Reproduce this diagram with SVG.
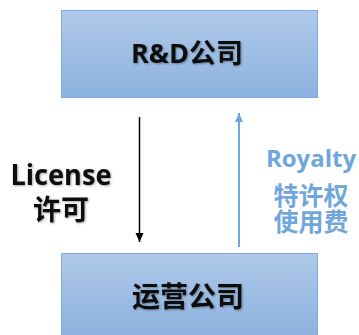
<svg xmlns="http://www.w3.org/2000/svg" width="359" height="335" viewBox="0 0 359 335">
<defs>
<linearGradient id="g" x1="0" y1="0" x2="0" y2="1">
<stop offset="0" stop-color="#afc9e9"/>
<stop offset="1" stop-color="#8db2df"/>
</linearGradient>
<filter id="sh" x="-10%" y="-10%" width="130%" height="130%">
<feDropShadow dx="1" dy="1" stdDeviation="0.8" flood-color="#000" flood-opacity="0.35"/>
</filter>
<marker id="ab" markerWidth="10" markerHeight="10" refX="9" refY="5" orient="auto" markerUnits="userSpaceOnUse" viewBox="0 0 10 10">
<path d="M0,1 L9,5 L0,9 Z" fill="#000"/>
</marker>
<marker id="au" markerWidth="10" markerHeight="10" refX="9" refY="5" orient="auto" markerUnits="userSpaceOnUse" viewBox="0 0 10 10">
<path d="M0,1 L9,5 L0,9 Z" fill="#6fa6dc"/>
</marker>
</defs>
<style>
.box{fill:url(#g);stroke:#7eaadf;stroke-width:1}
.t{font-family:"Open Sans","Noto Sans CJK SC",sans-serif;font-weight:700;text-anchor:middle}
.blk{fill:#111}
.blu{fill:#6fa6dc}
</style>
<g id="rd">
<rect class="box" x="61.5" y="10.5" width="256" height="87"/>
<text class="t blk" x="187" y="63" font-size="27" filter="url(#sh)">R&amp;D公司</text>
</g>
<g id="ops">
<rect class="box" x="61.5" y="253.5" width="256" height="82"/>
<text class="t blk" x="188" y="307" font-size="28" filter="url(#sh)">运营公司</text>
</g>
<g id="connectors">
<line x1="139.5" y1="117" x2="139.5" y2="242" stroke="#000" stroke-width="1.5" marker-end="url(#ab)"/>
<line x1="239" y1="247" x2="239" y2="113" stroke="#6fa6dc" stroke-width="2" marker-end="url(#au)"/>
</g>
<g id="license">
<text class="t blk" x="61" y="185" font-size="28" textLength="101" lengthAdjust="spacingAndGlyphs" filter="url(#sh)">License</text>
<text class="t blk" x="61" y="220" font-size="28" filter="url(#sh)">许可</text>
</g>
<g id="royalty">
<text class="t blu" x="311" y="167" font-size="24">Royalty</text>
<text class="t blu" font-size="25"><tspan x="311" y="205">特许权</tspan><tspan x="311" y="231">使用费</tspan></text>
</g>
</svg>
